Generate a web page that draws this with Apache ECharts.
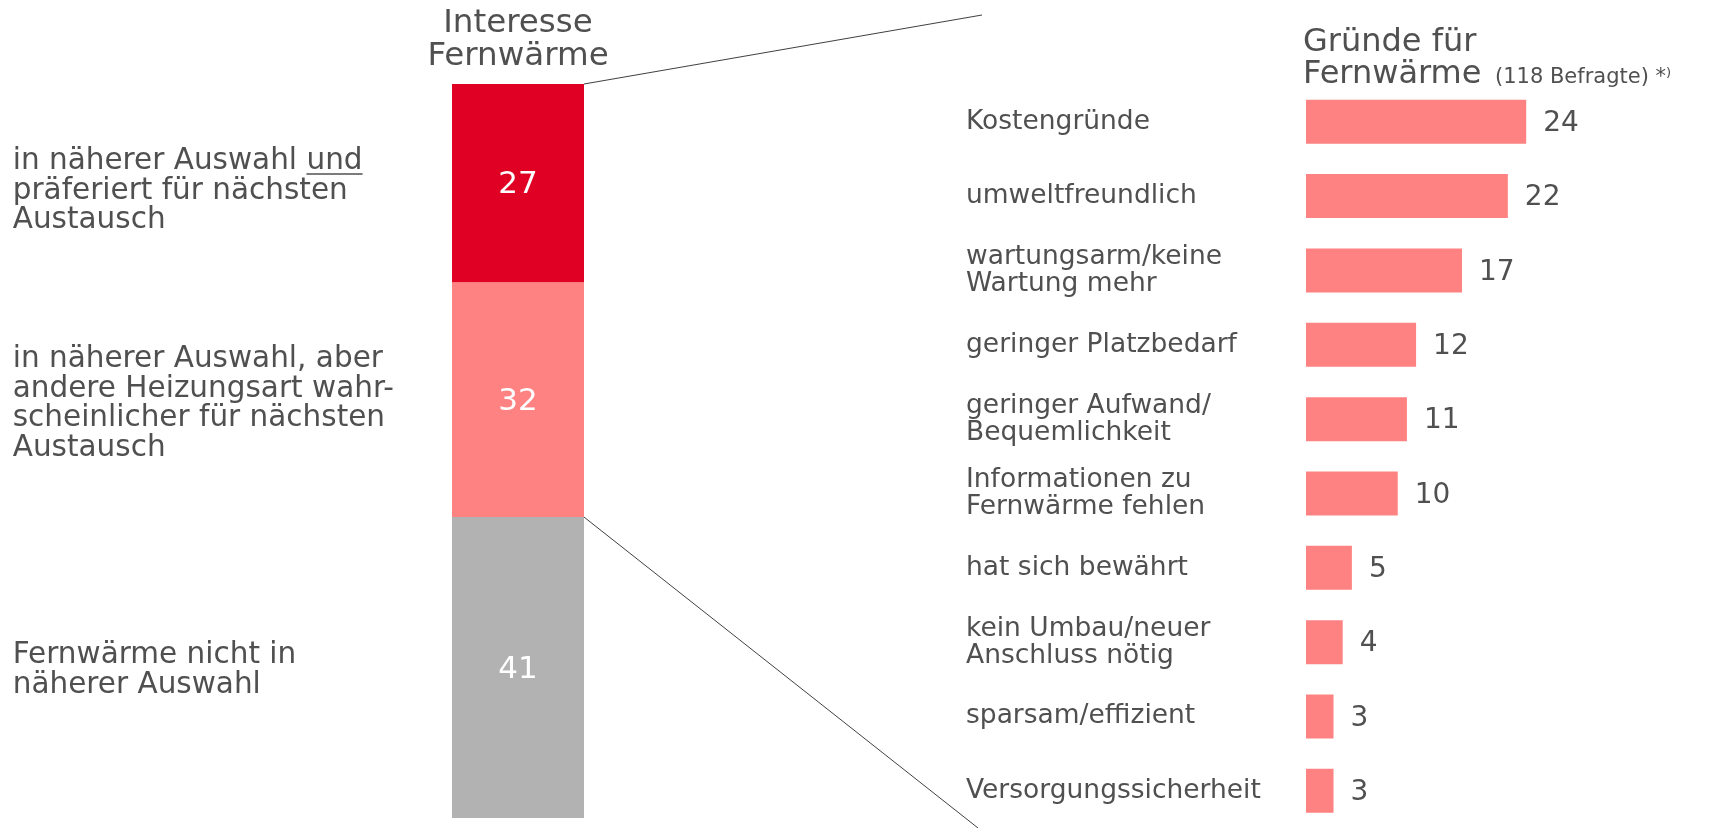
<!DOCTYPE html>
<html><head><meta charset="utf-8">
<script src="https://cdn.jsdelivr.net/npm/echarts@6/dist/echarts.min.js"></script>
<style>html,body{margin:0;padding:0;background:#fff}#c{width:1712px;height:828px}</style>
</head><body><div id="c"></div>
<script>
const FONT = 'DejaVu Sans';
const TXT = '#505050';

const interestTitle = 'Interesse\nFernwärme';
const interestCats = ['Interesse Fernwärme'];
const interestLabels = [
  'in näherer Auswahl und\npräferiert für nächsten\nAustausch',
  'in näherer Auswahl, aber\nandere Heizungsart wahr-\nscheinlicher für nächsten\nAustausch',
  'Fernwärme nicht in\nnäherer Auswahl'
];
const interestValues = [27, 32, 41];
const interestColors = ['#E00024', '#FF8282', '#B2B2B2'];

const reasonTitle = 'Gründe für\nFernwärme';
const reasonNote = '(118 Befragte) *⁾';
const reasonCats = [
  'Kostengründe', 'umweltfreundlich', 'wartungsarm/keine\nWartung mehr',
  'geringer Platzbedarf', 'geringer Aufwand/\nBequemlichkeit',
  'Informationen zu\nFernwärme fehlen', 'hat sich bewährt',
  'kein Umbau/neuer\nAnschluss nötig', 'sparsam/effizient', 'Versorgungssicherheit'
];
const reasonValues = [24, 22, 17, 12, 11, 10, 5, 4, 3, 3];

const chart = echarts.init(document.getElementById('c'), null, {renderer: 'canvas'});

// stacked bar: bottom segment first
const stackSeries = [];
for (let i = interestValues.length - 1; i >= 0; i--) {
  stackSeries.push({
    type: 'bar', stack: 'interest', xAxisIndex: 0, yAxisIndex: 0,
    data: [interestValues[i]], barWidth: '100%',
    itemStyle: {color: interestColors[i]},
    label: {show: true, position: 'inside', offset: [0, 2], color: '#fff', fontSize: 31, fontFamily: FONT},
    silent: true
  });
}

chart.setOption({
  animation: false,
  backgroundColor: '#fff',
  textStyle: {fontFamily: FONT},
  grid: [
    {left: 452, width: 132, top: 84, height: 734},
    {left: 1306, width: 367, top: 84.6, height: 748}
  ],
  xAxis: [
    {gridIndex: 0, type: 'category', data: interestCats, show: false},
    {gridIndex: 1, type: 'value', min: 0, max: 40, show: false}
  ],
  yAxis: [
    {gridIndex: 0, type: 'value', min: 0, max: 100, show: false},
    {gridIndex: 1, type: 'category', data: reasonCats, inverse: true,
     axisLine: {show: false}, axisTick: {show: false}, splitLine: {show: false},
     axisLabel: {align: 'left', margin: 340, color: TXT, fontSize: 26.5, lineHeight: 27, fontFamily: FONT, padding: [6, 0, 0, 0]}}
  ],
  series: stackSeries.concat([{
    type: 'bar', xAxisIndex: 1, yAxisIndex: 1, data: reasonValues,
    barWidth: 44, itemStyle: {color: '#FF8282'},
    label: {show: true, position: 'right', distance: 17, offset: [0, 2], color: TXT, fontSize: 28, fontFamily: FONT},
    silent: true
  }])
});

// connectors and texts
const pTop = chart.convertToPixel({gridIndex: 0}, [0, 100]);
const pMid = chart.convertToPixel({gridIndex: 0}, [0, interestValues[2]]);
const barRight = 452 + 132;

const LFS = 29.5, LLH = 29.5;
const cv = document.createElement('canvas').getContext('2d');
cv.font = LFS + 'px "DejaVu Sans"';
const firstLine = interestLabels[0].split('\n')[0];
const undStart = cv.measureText(firstLine.slice(0, firstLine.length - 3)).width;
const undW = cv.measureText('und').width;

const labelTops = [147, 345, 641];
const firstBaseline = labelTops[0] + LLH / 2 + 0.346 * LFS;
const elements = [
  {type: 'line', shape: {x1: barRight, y1: pTop[1], x2: 982, y2: 15}, style: {stroke: '#404040', lineWidth: 1}},
  {type: 'line', shape: {x1: barRight, y1: pMid[1], x2: 978, y2: 828}, style: {stroke: '#404040', lineWidth: 1}},
  {type: 'text', x: 518, y: 7.5, style: {text: interestTitle, fill: TXT, font: '32.5px "DejaVu Sans"', lineHeight: 33, align: 'center', verticalAlign: 'top'}},
  {type: 'text', x: 1303, y: 27, style: {text: reasonTitle, fill: TXT, font: '32px "DejaVu Sans"', lineHeight: 32, align: 'left', verticalAlign: 'top'}},
  {type: 'text', x: 1495, y: 78, style: {text: reasonNote, fill: TXT, font: '21px "DejaVu Sans"', align: 'left', verticalAlign: 'middle'}},
  {type: 'line', shape: {x1: 12.7 + undStart, y1: firstBaseline + 2, x2: 12.7 + undStart + undW, y2: firstBaseline + 2}, style: {stroke: TXT, lineWidth: 1.5}}
];
interestLabels.forEach((t, i) => {
  elements.push({type: 'text', x: 12.7, y: labelTops[i], style: {text: t, fill: TXT, font: LFS + 'px "DejaVu Sans"', lineHeight: LLH, align: 'left', verticalAlign: 'top'}});
});
chart.setOption({graphic: {elements: elements}});
</script></body></html>
